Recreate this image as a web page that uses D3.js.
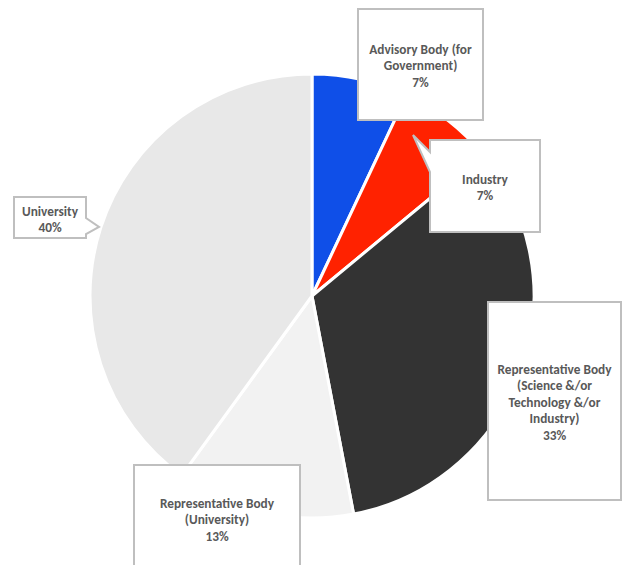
<!DOCTYPE html>
<html>
<head>
<meta charset="utf-8">
<script src="https://cdn.jsdelivr.net/npm/d3@7/dist/d3.min.js"></script>
<style>
html,body{margin:0;padding:0;background:#fff;}
svg{display:block;}
</style>
</head>
<body>
<svg id="chart" width="624" height="565"></svg>
<script>
// ---- data ----
const categories = [
  "Advisory Body (for Government)",
  "Industry",
  "Representative Body (Science &/or Technology &/or Industry)",
  "Representative Body (University)",
  "University"
];
const values = [7, 7, 33, 13, 40];
const percentLabels = ["7%", "7%", "33%", "13%", "40%"];
const labelLines = [
  ["Advisory Body (for", "Government)"],
  ["Industry"],
  ["Representative Body", "(Science &/or", "Technology &/or", "Industry)"],
  ["Representative Body", "(University)"],
  ["University"]
];
const colors = ["#0F4FE8", "#FF2200", "#333333", "#F2F2F2", "#E8E8E8"];

// ---- layout ----
const cx = 312, cy = 296, R = 222;
const boxes = [
  {x: 358, y: 9,   w: 125, h: 111, ty: 49,  ptr: null},
  {x: 430, y: 140, w: 110, h: 92,  ty: 179, ptr: {side: "left", tip: [413, 135], a: 152, b: 172}},
  {x: 488, y: 302, w: 133, h: 198, ty: 369, ptr: null},
  {x: 134, y: 465, w: 166, h: 120, ty: 503, ptr: null},
  {x: 14,  y: 197, w: 72,  h: 41,  ty: 211, ptr: {side: "right", tip: [99, 227], a: 218, b: 234}}
];

const svg = d3.select("#chart");
const data = categories.map((c, i) => ({cat: c, value: values[i], i}));

const pie = d3.pie().sort(null).value(d => d.value);
const arc = d3.arc().innerRadius(0).outerRadius(R);
const color = d3.scaleOrdinal().domain(categories).range(colors);

const g = svg.append("g").attr("transform", `translate(${cx},${cy})`);
g.selectAll("path.slice")
  .data(pie(data))
  .join("path")
  .attr("class", "slice")
  .attr("d", arc)
  .attr("fill", d => color(d.data.cat))
  .attr("stroke", "#ffffff")
  .attr("stroke-width", 3)
  .attr("stroke-linejoin", "round");

function calloutPath(b) {
  const x0 = b.x, y0 = b.y, x1 = b.x + b.w, y1 = b.y + b.h;
  const p = d3.path();
  if (!b.ptr) {
    p.moveTo(x0, y0); p.lineTo(x1, y0); p.lineTo(x1, y1); p.lineTo(x0, y1); p.closePath();
  } else if (b.ptr.side === "left") {
    p.moveTo(x0, y0); p.lineTo(x1, y0); p.lineTo(x1, y1); p.lineTo(x0, y1);
    p.lineTo(x0, b.ptr.b); p.lineTo(b.ptr.tip[0], b.ptr.tip[1]); p.lineTo(x0, b.ptr.a);
    p.closePath();
  } else {
    p.moveTo(x0, y0); p.lineTo(x1, y0); p.lineTo(x1, b.ptr.a);
    p.lineTo(b.ptr.tip[0], b.ptr.tip[1]); p.lineTo(x1, b.ptr.b);
    p.lineTo(x1, y1); p.lineTo(x0, y1); p.closePath();
  }
  return p.toString();
}

const lineH = 16.5;
const cg = svg.append("g");
data.forEach((d, i) => {
  const b = boxes[i];
  cg.append("path")
    .attr("d", calloutPath(b))
    .attr("fill", "#ffffff")
    .attr("stroke", "#BFBFBF")
    .attr("stroke-width", 2)
    .attr("stroke-linejoin", "miter");
  const lines = labelLines[i].concat([percentLabels[i]]);
  const t = cg.append("text")
    .attr("text-anchor", "middle")
    .attr("font-family", "Carlito, Lato, 'Liberation Sans', sans-serif")
    .attr("font-weight", "bold")
    .attr("font-size", "13.3px")
    .attr("fill", "#595959");
  lines.forEach((ln, k) => {
    t.append("tspan")
      .attr("x", b.x + b.w / 2)
      .attr("y", b.ty + k * lineH)
      .attr("dy", "0.35em")
      .text(ln);
  });
});
</script>
</body>
</html>
